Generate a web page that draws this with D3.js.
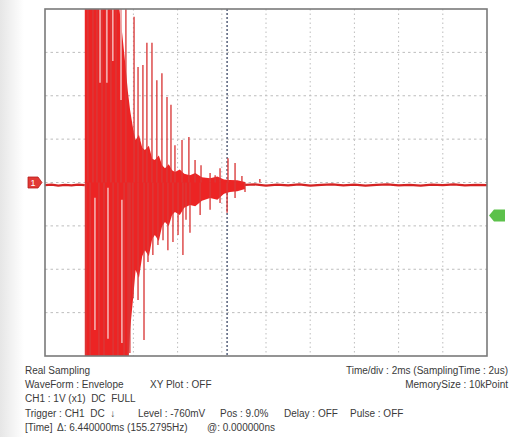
<!DOCTYPE html>
<html>
<head>
<meta charset="utf-8">
<script src="https://cdn.jsdelivr.net/npm/d3@7"></script>
<style>
  body { margin: 0; background: #fff; }
  text { font-family: "Liberation Sans", Arial, sans-serif; fill: #3a3a3a; white-space: pre; }
</style>
</head>
<body>
<svg width="516" height="437"></svg>
<script>
// time in ms (2 ms/div, trigger at 9%), voltage in V (1 V/div)
var timeDomain = [-1.8, 18.2];
var voltDomain = [-4, 4];
var gridTimes = [0.2, 2.2, 4.2, 6.2, 8.2, 10.2, 12.2, 14.2, 16.2];
var gridVolts = [-3, -2, -1, 0, 1, 2, 3];
var cursorTime = 6.44;

// envelope body (solid part of the burst)
var bodyT  = [0, 0.7, 1.5, 1.7, 1.82, 1.95, 2.05, 2.2, 2.3, 2.45, 2.6, 2.72, 2.9, 3.05, 3.17, 3.35, 3.5, 3.63, 3.8, 3.95, 4.08, 4.3, 4.5, 4.76, 5.0, 5.3, 5.67, 6.0, 6.3, 6.57, 6.9, 7.25];
var bodyHi = [4.3, 4.3, 4.3, 3.4, 2.8, 2.1, 1.67, 1.2, 0.98, 1.1, 0.8, 0.75, 0.85, 0.55, 0.52, 0.62, 0.4, 0.33, 0.42, 0.28, 0.24, 0.3, 0.2, 0.17, 0.22, 0.12, 0.10, 0.14, 0.07, 0.06, 0.05, 0.01];
var bodyLo = [-4.3, -4.3, -4.3, -4.3, -4.3, -4.3, -3.4, -2.6, -2.02, -2.2, -1.7, -1.56, -1.7, -1.3, -1.21, -1.35, -1.0, -0.91, -1.0, -0.75, -0.68, -0.75, -0.58, -0.52, -0.55, -0.42, -0.36, -0.4, -0.26, -0.22, -0.2, -0.15];

// single spikes above and below
var upT = [0.14, 0.37, 0.55, 0.78, 0.96, 1.18, 1.41, 1.64, 1.86, 2.23, 2.41, 2.63, 2.81, 3.04, 3.26, 3.49, 3.72, 3.9, 4.08, 4.4, 4.71, 4.99, 5.26, 5.67, 5.9, 6.12, 6.48, 6.8, 7.11, 7.92];
var upV = [4.3, 4.3, 4.3, 4.3, 4.3, 4.3, 4.3, 4.3, 4.3, 3.82, 2.66, 2.71, 3.22, 3.22, 2.36, 2.52, 1.97, 1.79, 0.86, 0.98, 1.05, 0.52, 0.4, 0.22, 0.17, 0.33, 0.56, 0.45, 0.15, 0.08];
var downT = [0.05, 0.24, 0.64, 0.87, 1.28, 1.5, 1.78, 1.96, 2.04, 2.18, 2.41, 2.68, 2.86, 3.08, 3.31, 3.54, 3.76, 3.99, 4.22, 4.44, 4.58, 4.76, 5.22, 5.67, 6.12, 6.44, 6.8, 7.25];
var downV = [-4.3, -4.3, -4.3, -4.3, -4.3, -4.3, -4.3, -4.3, -3.93, -2.66, -2.71, -3.63, -1.83, -1.67, -1.44, -1.33, -1.56, -1.37, -1.21, -1.67, -0.86, -1.16, -0.75, -0.63, -0.47, -0.7, -0.36, -0.22];

// pale gaps between the saturated spikes
var gapT  = [0.69, 1.0, 1.27, 1.64, 0.46, 1.05, 1.68];
var gapV1 = [4.3, 4.3, 4.3, 4.3, -0.35, -0.12, -0.4];
var gapV2 = [2.3, 2.3, 2.8, 1.9, -3.4, -3.6, -3.7];

// baseline trace with noise
var traceT = [-1.8, -1.5, -1.2, -0.9, -0.6, -0.3, 0, 7.25, 7.7, 8.2, 8.7, 9.2, 9.7, 10.2, 10.7, 11.2, 11.7, 12.2, 12.7, 13.2, 13.7, 14.2, 14.7, 15.2, 15.7, 16.2, 16.7, 17.2, 17.7, 18.2];
var traceV = [-0.06, -0.05, -0.07, -0.055, -0.065, -0.05, -0.06, -0.055, -0.045, -0.07, -0.05, -0.065, -0.045, -0.07, -0.055, -0.045, -0.065, -0.05, -0.07, -0.055, -0.045, -0.065, -0.055, -0.07, -0.05, -0.06, -0.045, -0.065, -0.055, -0.06];

var infoLeft = ["Real Sampling", "WaveForm : Envelope", "CH1 : 1V (x1)  DC  FULL", "Trigger : CH1  DC  \u2193", "[Time]"];
var infoRight = ["Time/div : 2ms (SamplingTime : 2us)", "MemorySize : 10kPoint"];
var triggerItems = ["Level : -760mV", "Pos : 9.0%", "Delay : OFF", "Pulse : OFF"];
var timeItems = ["\u0394: 6.440000ms (155.2795Hz)", "@: 0.000000ns"];

var svg = d3.select("svg");
var pL = 45, pR = 487, pT = 9, pB = 356;

var x = d3.scaleLinear().domain(timeDomain).range([pL, pR]);
var y = d3.scaleLinear().domain(voltDomain).range([pB, pT]);

// faint grey on the left edge
var defs = svg.append("defs");
var lg = defs.append("linearGradient").attr("id", "edge");
lg.append("stop").attr("offset", "0%").attr("stop-color", "#e6e6e6");
lg.append("stop").attr("offset", "100%").attr("stop-color", "#fff");
svg.append("rect").attr("x", 0).attr("y", 0).attr("width", 24).attr("height", 437).attr("fill", "url(#edge)");

defs.append("clipPath").attr("id", "plot")
  .append("rect").attr("x", pL).attr("y", pT).attr("width", pR - pL).attr("height", pB - pT);

// grid
svg.append("g").selectAll("line").data(gridTimes).enter().append("line")
  .attr("x1", d => x(d)).attr("x2", d => x(d))
  .attr("y1", pT).attr("y2", pB)
  .attr("stroke", "#bdbdbd").attr("stroke-width", 1).attr("stroke-dasharray", "1.5,3");
svg.append("g").selectAll("line").data(gridVolts).enter().append("line")
  .attr("x1", pL).attr("x2", pR)
  .attr("y1", d => y(d)).attr("y2", d => y(d))
  .attr("stroke", "#bdbdbd").attr("stroke-width", 1).attr("stroke-dasharray", "2.5,3");

// cursor
svg.append("line")
  .attr("x1", x(cursorTime)).attr("x2", x(cursorTime))
  .attr("y1", pT).attr("y2", pB)
  .attr("stroke", "#56607a").attr("stroke-width", 1.5).attr("stroke-dasharray", "2,2");

var sig = svg.append("g").attr("clip-path", "url(#plot)");

var trace = traceT.map((t, i) => ({ t: t, v: traceV[i] }));
var pre = trace.filter(d => d.t <= 0), post = trace.filter(d => d.t >= 7.25);
var line = d3.line().x(d => x(d.t)).y(d => y(d.v));
[pre, post].forEach(function (seg) {
  sig.append("path").attr("d", line(seg))
    .attr("fill", "none").attr("stroke", "#d42323").attr("stroke-width", 2.2);
});

var body = bodyT.map((t, i) => ({ t: t, hi: bodyHi[i], lo: bodyLo[i] }));
var area = d3.area().x(d => x(d.t)).y0(d => y(d.lo)).y1(d => y(d.hi));
sig.append("path").attr("d", area(body)).attr("fill", "#ec2424");

sig.append("g").selectAll("line").data(upT).enter().append("line")
  .attr("x1", d => x(d)).attr("x2", d => x(d))
  .attr("y1", y(0)).attr("y2", (d, i) => y(upV[i]))
  .attr("stroke", "#d93a3a").attr("stroke-width", 1.6).attr("stroke-opacity", 0.85);
sig.append("g").selectAll("line").data(downT).enter().append("line")
  .attr("x1", d => x(d)).attr("x2", d => x(d))
  .attr("y1", y(0)).attr("y2", (d, i) => y(downV[i]))
  .attr("stroke", "#d93a3a").attr("stroke-width", 1.6).attr("stroke-opacity", 0.85);

sig.append("g").selectAll("line").data(gapT).enter().append("line")
  .attr("x1", d => x(d)).attr("x2", d => x(d))
  .attr("y1", (d, i) => y(gapV1[i])).attr("y2", (d, i) => y(gapV2[i]))
  .attr("stroke", "#f6c4c4").attr("stroke-width", 1.4);

// frame
svg.append("rect").attr("x", pL).attr("y", pT).attr("width", pR - pL).attr("height", pB - pT)
  .attr("fill", "none").attr("stroke", "#7a7a7a").attr("stroke-width", 1.6);

// channel marker (left) and trigger level marker (right)
var gy = y(0);
svg.append("path")
  .attr("d", "M28," + (gy - 5.5) + "H38L42," + gy + "L38," + (gy + 5.5) + "H28Z")
  .attr("fill", "#e23a35").attr("stroke", "#b51d1d").attr("stroke-width", 0.8);
svg.append("text").attr("x", 33).attr("y", gy + 3.5).attr("text-anchor", "middle")
  .style("font-size", "9px").style("fill", "#fff").text("1");
var ty = y(-0.76);
svg.append("path")
  .attr("d", "M489," + ty + "L494," + (ty - 6) + "H505V" + (ty + 6) + "H494Z")
  .attr("fill", "#5cc14b");

// info text
var info = svg.append("g").style("font-size", "10px");
var rowY = [374, 388, 402, 417, 431];
infoLeft.forEach(function (s, i) {
  info.append("text").attr("x", 25).attr("y", rowY[i]).text(s);
});
info.append("text").attr("x", 150).attr("y", rowY[1]).text("XY Plot : OFF");
infoRight.forEach(function (s, i) {
  info.append("text").attr("x", 508).attr("y", rowY[i]).attr("text-anchor", "end").text(s);
});
var trigX = [138, 220, 284, 350];
triggerItems.forEach(function (s, i) {
  info.append("text").attr("x", trigX[i]).attr("y", rowY[3]).text(s);
});
var timeX = [57, 207];
timeItems.forEach(function (s, i) {
  info.append("text").attr("x", timeX[i]).attr("y", rowY[4]).text(s);
});
</script>
</body>
</html>
